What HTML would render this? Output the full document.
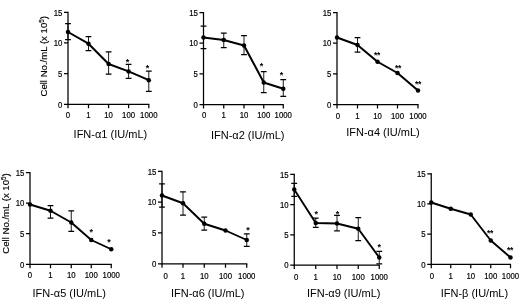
<!DOCTYPE html>
<html><head><meta charset="utf-8"><title>IFN dose response</title>
<style>
html,body{margin:0;padding:0;background:#fff;}
body{width:520px;height:301px;overflow:hidden;}
svg{display:block;}
text{font-family:"Liberation Sans","DejaVu Sans",sans-serif;fill:#000;}
.tk{font-size:9.3px;stroke:#000;stroke-width:0.2px;}
.tt{font-size:11px;}
.yl{font-size:9.6px;stroke:#000;stroke-width:0.15px;}
.st{font-size:9px;font-weight:bold;}
.st2{font-size:8.5px;font-weight:bold;letter-spacing:-0.4px;}
.ax{stroke:#000;stroke-width:1.25;fill:none;}
.ln{stroke:#000;fill:none;stroke-linejoin:round;}
.eb{stroke:#000;stroke-width:0.9;fill:none;}
.ec{stroke:#000;stroke-width:1.25;fill:none;}
.pt{fill:#000;}
</style></head><body>
<svg width="520" height="301" viewBox="0 0 520 301">
<rect width="520" height="301" fill="#fff"/>
<g>
<path class="ax" d="M68 11.8V104.3H149.3"/>
<text class="tk" text-anchor="end" transform="translate(62.4 107.60) scale(0.84 1)">0</text>
<text class="tk" text-anchor="end" transform="translate(62.4 76.93) scale(0.84 1)">5</text>
<text class="tk" text-anchor="end" transform="translate(62.4 46.27) scale(0.84 1)">10</text>
<text class="tk" text-anchor="end" transform="translate(62.4 15.60) scale(0.84 1)">15</text>
<text class="tk" text-anchor="middle" transform="translate(68 118.10) scale(0.84 1)">0</text>
<text class="tk" text-anchor="middle" transform="translate(88.5 118.10) scale(0.84 1)">1</text>
<text class="tk" text-anchor="middle" transform="translate(108.6 118.10) scale(0.84 1)">10</text>
<text class="tk" text-anchor="middle" transform="translate(128.6 118.10) scale(0.84 1)">100</text>
<text class="tk" text-anchor="middle" transform="translate(148.8 118.10) scale(0.84 1)">1000</text>
<path class="ax" d="M64 104.30H68M64 73.63H68M64 42.97H68M64 12.30H68M68 104.3V108.3M88.5 104.3V108.3M108.6 104.3V108.3M128.6 104.3V108.3M148.8 104.3V108.3"/>
<path class="eb" d="M68 23.7V39.5M88.5 36.7V50.7M108.6 51.9V74.2M128.6 64.4V78.4M148.8 71V91.4"/>
<path class="ec" d="M65.1 23.7H70.9M65.1 39.5H70.9M85.6 36.7H91.4M85.6 50.7H91.4M105.69999999999999 51.9H111.5M105.69999999999999 74.2H111.5M125.69999999999999 64.4H131.5M125.69999999999999 78.4H131.5M145.9 71H151.70000000000002M145.9 91.4H151.70000000000002"/>
<polyline class="ln" stroke-width="2.0" points="68,32 88.5,43.7 108.6,64 128.6,71.4 148.8,80.2"/>
<circle class="pt" cx="68" cy="32" r="2.25"/>
<circle class="pt" cx="88.5" cy="43.7" r="2.25"/>
<circle class="pt" cx="108.6" cy="64" r="2.25"/>
<circle class="pt" cx="128.6" cy="71.4" r="2.25"/>
<circle class="pt" cx="148.8" cy="80.2" r="2.25"/>
<text class="st" text-anchor="middle" x="127.6" y="64.90">*</text>
<text class="st" text-anchor="middle" x="147.4" y="70.90">*</text>
<text class="tt" text-anchor="middle" x="110.4" y="138.20">IFN-α1 (IU/mL)</text>
</g>
<g>
<path class="ax" d="M203.5 12.0V104.5H283.75"/>
<text class="tk" text-anchor="end" transform="translate(197.9 107.80) scale(0.84 1)">0</text>
<text class="tk" text-anchor="end" transform="translate(197.9 77.13) scale(0.84 1)">5</text>
<text class="tk" text-anchor="end" transform="translate(197.9 46.47) scale(0.84 1)">10</text>
<text class="tk" text-anchor="end" transform="translate(197.9 15.80) scale(0.84 1)">15</text>
<text class="tk" text-anchor="middle" transform="translate(204.25 118.10) scale(0.84 1)">0</text>
<text class="tk" text-anchor="middle" transform="translate(223.75 118.10) scale(0.84 1)">1</text>
<text class="tk" text-anchor="middle" transform="translate(244 118.10) scale(0.84 1)">10</text>
<text class="tk" text-anchor="middle" transform="translate(263.75 118.10) scale(0.84 1)">100</text>
<text class="tk" text-anchor="middle" transform="translate(283.25 118.10) scale(0.84 1)">1000</text>
<path class="ax" d="M199.5 104.50H203.5M199.5 73.83H203.5M199.5 43.17H203.5M199.5 12.50H203.5M203.5 104.5V108.5M223.75 104.5V108.5M244 104.5V108.5M263.75 104.5V108.5M283.25 104.5V108.5"/>
<path class="eb" d="M203.5 26V48.5M223.75 33V47.5M244 35.5V54.5M263.75 71.5V92.5M283.25 79.5V96.25"/>
<path class="ec" d="M200.6 26H206.4M200.6 48.5H206.4M220.85 33H226.65M220.85 47.5H226.65M241.1 35.5H246.9M241.1 54.5H246.9M260.85 71.5H266.65M260.85 92.5H266.65M280.35 79.5H286.15M280.35 96.25H286.15"/>
<polyline class="ln" stroke-width="2.0" points="203.5,37.5 223.75,40 244,45.5 263.75,82.5 283.25,88.75"/>
<circle class="pt" cx="203.5" cy="37.5" r="2.25"/>
<circle class="pt" cx="223.75" cy="40" r="2.25"/>
<circle class="pt" cx="244" cy="45.5" r="2.25"/>
<circle class="pt" cx="263.75" cy="82.5" r="2.25"/>
<circle class="pt" cx="283.25" cy="88.75" r="2.25"/>
<text class="st" text-anchor="middle" x="261.4" y="68.90">*</text>
<text class="st" text-anchor="middle" x="281.4" y="78.30">*</text>
<text class="tt" text-anchor="middle" x="247.75" y="138.90">IFN-α2 (IU/mL)</text>
</g>
<g>
<path class="ax" d="M337 12.0V104.5H418.5"/>
<text class="tk" text-anchor="end" transform="translate(331.4 107.80) scale(0.84 1)">0</text>
<text class="tk" text-anchor="end" transform="translate(331.4 77.13) scale(0.84 1)">5</text>
<text class="tk" text-anchor="end" transform="translate(331.4 46.47) scale(0.84 1)">10</text>
<text class="tk" text-anchor="end" transform="translate(331.4 15.80) scale(0.84 1)">15</text>
<text class="tk" text-anchor="middle" transform="translate(338 118.60) scale(0.84 1)">0</text>
<text class="tk" text-anchor="middle" transform="translate(357.5 118.60) scale(0.84 1)">1</text>
<text class="tk" text-anchor="middle" transform="translate(377.5 118.60) scale(0.84 1)">10</text>
<text class="tk" text-anchor="middle" transform="translate(397.5 118.60) scale(0.84 1)">100</text>
<text class="tk" text-anchor="middle" transform="translate(418 118.60) scale(0.84 1)">1000</text>
<path class="ax" d="M333 104.50H337M333 73.83H337M333 43.17H337M333 12.50H337M337 104.5V108.5M357.5 104.5V108.5M377.5 104.5V108.5M397.5 104.5V108.5M418 104.5V108.5"/>
<path class="eb" d="M357.5 37.5V52"/>
<path class="ec" d="M354.6 37.5H360.4M354.6 52H360.4"/>
<polyline class="ln" stroke-width="2.0" points="337,37.5 357.5,45 377.5,61.75 397.5,73 418,90.5"/>
<circle class="pt" cx="337" cy="37.5" r="2.25"/>
<circle class="pt" cx="357.5" cy="45" r="2.25"/>
<circle class="pt" cx="377.5" cy="61.75" r="2.25"/>
<circle class="pt" cx="397.5" cy="73" r="2.25"/>
<circle class="pt" cx="418" cy="90.5" r="2.25"/>
<text class="st2" text-anchor="middle" x="377" y="58.05">**</text>
<text class="st2" text-anchor="middle" x="398" y="71.30">**</text>
<text class="st2" text-anchor="middle" x="418" y="87.30">**</text>
<text class="tt" text-anchor="middle" x="383" y="136.40">IFN-α4 (IU/mL)</text>
</g>
<g>
<path class="ax" d="M30 172.0V264.25H111.75"/>
<text class="tk" text-anchor="end" transform="translate(24.4 267.55) scale(0.84 1)">0</text>
<text class="tk" text-anchor="end" transform="translate(24.4 236.97) scale(0.84 1)">5</text>
<text class="tk" text-anchor="end" transform="translate(24.4 206.38) scale(0.84 1)">10</text>
<text class="tk" text-anchor="end" transform="translate(24.4 175.80) scale(0.84 1)">15</text>
<text class="tk" text-anchor="middle" transform="translate(30 278.10) scale(0.84 1)">0</text>
<text class="tk" text-anchor="middle" transform="translate(50.5 278.10) scale(0.84 1)">1</text>
<text class="tk" text-anchor="middle" transform="translate(71.25 278.10) scale(0.84 1)">10</text>
<text class="tk" text-anchor="middle" transform="translate(91.25 278.10) scale(0.84 1)">100</text>
<text class="tk" text-anchor="middle" transform="translate(111.25 278.10) scale(0.84 1)">1000</text>
<path class="ax" d="M26 264.25H30M26 233.67H30M26 203.08H30M26 172.50H30M30 264.25V268.25M50.5 264.25V268.25M71.25 264.25V268.25M91.25 264.25V268.25M111.25 264.25V268.25"/>
<path class="eb" d="M50.5 205.5V218M71.25 210.75V231.25"/>
<path class="ec" d="M47.6 205.5H53.4M47.6 218H53.4M68.35 210.75H74.15M68.35 231.25H74.15"/>
<polyline class="ln" stroke-width="1.9" points="30,204.5 50.5,210.75 71.25,222.5 91.25,240 111.25,249.25"/>
<circle class="pt" cx="30" cy="204.5" r="2.25"/>
<circle class="pt" cx="50.5" cy="210.75" r="2.25"/>
<circle class="pt" cx="71.25" cy="222.5" r="2.25"/>
<circle class="pt" cx="91.25" cy="240" r="2.25"/>
<circle class="pt" cx="111.25" cy="249.25" r="2.25"/>
<text class="st" text-anchor="middle" x="91.25" y="235.30">*</text>
<text class="st" text-anchor="middle" x="109" y="244.80">*</text>
<text class="tt" text-anchor="middle" x="69.25" y="296.90">IFN-α5 (IU/mL)</text>
</g>
<g>
<path class="ax" d="M162 170.75V263.75H247.25"/>
<text class="tk" text-anchor="end" transform="translate(156.4 267.05) scale(0.84 1)">0</text>
<text class="tk" text-anchor="end" transform="translate(156.4 236.22) scale(0.84 1)">5</text>
<text class="tk" text-anchor="end" transform="translate(156.4 205.38) scale(0.84 1)">10</text>
<text class="tk" text-anchor="end" transform="translate(156.4 174.55) scale(0.84 1)">15</text>
<text class="tk" text-anchor="middle" transform="translate(165.6 278.60) scale(0.84 1)">0</text>
<text class="tk" text-anchor="middle" transform="translate(183 278.60) scale(0.84 1)">1</text>
<text class="tk" text-anchor="middle" transform="translate(204.25 278.60) scale(0.84 1)">10</text>
<text class="tk" text-anchor="middle" transform="translate(225.5 278.60) scale(0.84 1)">100</text>
<text class="tk" text-anchor="middle" transform="translate(246.75 278.60) scale(0.84 1)">1000</text>
<path class="ax" d="M158 263.75H162M158 232.92H162M158 202.08H162M158 171.25H162M162 263.75V267.75M183 263.75V267.75M204.25 263.75V267.75M225.5 263.75V267.75M246.75 263.75V267.75"/>
<path class="eb" d="M162 183.75V207M183 191.75V215M204.25 217V230M246.75 233.75V246.25"/>
<path class="ec" d="M159.1 183.75H164.9M159.1 207H164.9M180.1 191.75H185.9M180.1 215H185.9M201.35 217H207.15M201.35 230H207.15M243.85 233.75H249.65M243.85 246.25H249.65"/>
<polyline class="ln" stroke-width="1.9" points="162,195.5 183,203.25 204.25,223.75 225.5,230.5 246.75,240"/>
<circle class="pt" cx="162" cy="195.5" r="2.25"/>
<circle class="pt" cx="183" cy="203.25" r="2.25"/>
<circle class="pt" cx="204.25" cy="223.75" r="2.25"/>
<circle class="pt" cx="225.5" cy="230.5" r="2.25"/>
<circle class="pt" cx="246.75" cy="240" r="2.25"/>
<text class="st" text-anchor="middle" x="248" y="232.70">*</text>
<text class="tt" text-anchor="middle" x="207.75" y="296.90">IFN-α6 (IU/mL)</text>
</g>
<g>
<path class="ax" d="M294.25 173.75V265H379.75"/>
<text class="tk" text-anchor="end" transform="translate(288.65 268.30) scale(0.84 1)">0</text>
<text class="tk" text-anchor="end" transform="translate(288.65 238.05) scale(0.84 1)">5</text>
<text class="tk" text-anchor="end" transform="translate(288.65 207.80) scale(0.84 1)">10</text>
<text class="tk" text-anchor="end" transform="translate(288.65 177.55) scale(0.84 1)">15</text>
<text class="tk" text-anchor="middle" transform="translate(296.25 279.60) scale(0.84 1)">0</text>
<text class="tk" text-anchor="middle" transform="translate(315.75 279.60) scale(0.84 1)">1</text>
<text class="tk" text-anchor="middle" transform="translate(337 279.60) scale(0.84 1)">10</text>
<text class="tk" text-anchor="middle" transform="translate(358.25 279.60) scale(0.84 1)">100</text>
<text class="tk" text-anchor="middle" transform="translate(379.25 279.60) scale(0.84 1)">1000</text>
<path class="ax" d="M290.25 265.00H294.25M290.25 234.75H294.25M290.25 204.50H294.25M290.25 174.25H294.25M294.25 265V269M315.75 265V269M337 265V269M358.25 265V269M379.25 265V269"/>
<path class="eb" d="M294.25 183.25V196.25M315.75 218V227.3M337 215.3V230.8M358.25 217.5V240.5M379.25 251.25V263.75"/>
<path class="ec" d="M291.35 183.25H297.15M291.35 196.25H297.15M312.85 218H318.65M312.85 227.3H318.65M334.1 215.3H339.9M334.1 230.8H339.9M355.35 217.5H361.15M355.35 240.5H361.15M376.35 251.25H382.15M376.35 263.75H382.15"/>
<polyline class="ln" stroke-width="1.9" points="294.25,189.5 315.75,223 337,223.5 358.25,228.75 379.25,257.5"/>
<circle class="pt" cx="294.25" cy="189.5" r="2.25"/>
<circle class="pt" cx="315.75" cy="223" r="2.25"/>
<circle class="pt" cx="337" cy="223.5" r="2.25"/>
<circle class="pt" cx="358.25" cy="228.75" r="2.25"/>
<circle class="pt" cx="379.25" cy="257.5" r="2.25"/>
<text class="st" text-anchor="middle" x="316.25" y="216.55">*</text>
<text class="st" text-anchor="middle" x="337.5" y="216.55">*</text>
<text class="st" text-anchor="middle" x="379.25" y="250.30">*</text>
<text class="tt" text-anchor="middle" x="343.75" y="296.90">IFN-α9 (IU/mL)</text>
</g>
<g>
<path class="ax" d="M431.25 173.25V264.25H511.0"/>
<text class="tk" text-anchor="end" transform="translate(425.65 267.55) scale(0.84 1)">0</text>
<text class="tk" text-anchor="end" transform="translate(425.65 237.38) scale(0.84 1)">5</text>
<text class="tk" text-anchor="end" transform="translate(425.65 207.22) scale(0.84 1)">10</text>
<text class="tk" text-anchor="end" transform="translate(425.65 177.05) scale(0.84 1)">15</text>
<text class="tk" text-anchor="middle" transform="translate(432.0 278.60) scale(0.84 1)">0</text>
<text class="tk" text-anchor="middle" transform="translate(450.75 278.60) scale(0.84 1)">1</text>
<text class="tk" text-anchor="middle" transform="translate(470.75 278.60) scale(0.84 1)">10</text>
<text class="tk" text-anchor="middle" transform="translate(490.75 278.60) scale(0.84 1)">100</text>
<text class="tk" text-anchor="middle" transform="translate(510.5 278.60) scale(0.84 1)">1000</text>
<path class="ax" d="M427.25 264.25H431.25M427.25 234.08H431.25M427.25 203.92H431.25M427.25 173.75H431.25M431.25 264.25V268.25M450.75 264.25V268.25M470.75 264.25V268.25M490.75 264.25V268.25M510.5 264.25V268.25"/>
<polyline class="ln" stroke-width="1.9" points="431.25,202.5 450.75,208.75 470.75,214.5 490.75,240.5 510.5,257.5"/>
<circle class="pt" cx="431.25" cy="202.5" r="2.25"/>
<circle class="pt" cx="450.75" cy="208.75" r="2.25"/>
<circle class="pt" cx="470.75" cy="214.5" r="2.25"/>
<circle class="pt" cx="490.75" cy="240.5" r="2.25"/>
<circle class="pt" cx="510.5" cy="257.5" r="2.25"/>
<text class="st2" text-anchor="middle" x="490" y="235.55">**</text>
<text class="st2" text-anchor="middle" x="510" y="253.05">**</text>
<text class="tt" text-anchor="middle" x="474.4" y="296.90">IFN-β (IU/mL)</text>
</g>
<text class="yl" text-anchor="middle" transform="translate(47.199999999999996 56.3) rotate(-90)">Cell No./mL (x 10<tspan font-size="6.3" dy="-3.2">5</tspan><tspan dy="3.2">)</tspan></text>
<text class="yl" text-anchor="middle" transform="translate(9.3 213.5) rotate(-90)">Cell No./mL (x 10<tspan font-size="6.3" dy="-3.2">5</tspan><tspan dy="3.2">)</tspan></text>
</svg>
</body></html>
